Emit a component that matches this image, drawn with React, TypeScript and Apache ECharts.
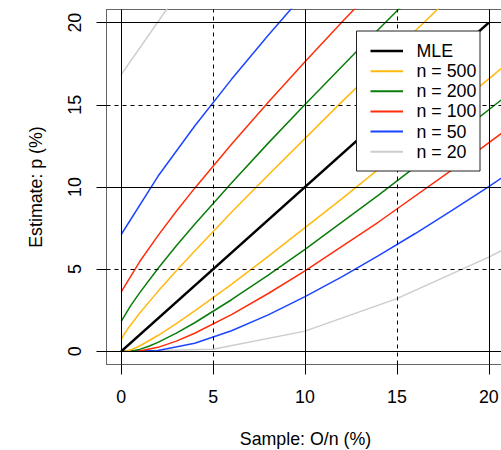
import React, { useEffect, useRef } from "react";
import * as echarts from "echarts";

// Tick positions (percent)
const xTicks = [0, 5, 10, 15, 20];
const yTicks = [0, 5, 10, 15, 20];
const solidGrid = [0, 10, 20];
const dashedGrid = [5, 15];

// MLE line: estimate = sample
const mle = [[0, 0], [20, 20]];

// 95% exact interval limits, [sample %, estimate %]
const n500Upper = [[0, 0.735], [0.2, 1.109], [0.4, 1.438], [1, 2.318], [2, 3.65], [3, 4.9], [4, 6.11], [6, 8.46], [8, 10.73], [12, 15.18], [16, 19.51], [18, 21.65]];
const n500Lower = [[0, 0], [0.2, 0.005], [0.4, 0.048], [0.6, 0.124], [1, 0.325], [2, 0.963], [3, 1.69], [4, 2.46], [6, 4.08], [8, 5.78], [12, 9.28], [16, 12.9], [20, 16.58], [22, 18.44]];
const n200Upper = [[0, 1.83], [0.5, 2.75], [1, 3.56], [2, 5.04], [3, 6.42], [4, 7.73], [6, 10.25], [8, 12.67], [10, 15.02], [13, 18.47], [16, 21.83]];
const n200Lower = [[0, 0], [0.5, 0.013], [1, 0.121], [1.5, 0.31], [2, 0.548], [3, 1.11], [4, 1.74], [6, 3.14], [8, 4.64], [10, 6.21], [14, 9.51], [18, 12.94], [22, 16.46]];
const n100Upper = [[0, 3.62], [1, 5.45], [2, 7.04], [3, 8.52], [4, 9.93], [6, 12.6], [8, 15.16], [10, 17.62], [12, 20.02], [14, 22.37]];
const n100Lower = [[0, 0], [1, 0.025], [2, 0.243], [3, 0.62], [4, 1.1], [6, 2.23], [8, 3.52], [10, 4.9], [14, 7.87], [18, 11.04], [22, 14.34]];
const n50Upper = [[0, 7.11], [2, 10.65], [4, 13.71], [6, 16.55], [8, 19.23], [10, 21.81]];
const n50Lower = [[0, 0], [2, 0.05], [4, 0.49], [6, 1.25], [8, 2.22], [10, 3.33], [12, 4.53], [14, 5.82], [16, 7.17], [18, 8.58], [20, 10.03], [22, 11.53]];
const n20Upper = [[0, 16.84], [5, 24.87]];
const n20Lower = [[0, 0], [5, 0.13], [10, 1.23], [15, 3.21], [20, 5.73], [25, 8.66]];

const legendLabels = ["MLE", "n = 500", "n = 200", "n = 100", "n = 50", "n = 20"];
const legendColors = ["#000000", "#FFB90F", "#0A7D0A", "#FF2D0A", "#1B45FF", "#CCCCCC"];

export default function App() {
  const ref = useRef<HTMLDivElement>(null);

  useEffect(() => {
    if (!ref.current) return;
    const chart = echarts.init(ref.current, null, { renderer: "svg" });
    const font = "'Liberation Sans', Arial, Helvetica, sans-serif";
    const fs = 17.8;
    const [cMle, c500, c200, c100, c50, c20] = legendColors;

    const curve = (name: string, data: number[][], color: string, width = 1.5) => ({
      name,
      type: "line",
      data,
      symbol: "none",
      showSymbol: false,
      clip: true,
      silent: true,
      z: 3,
      lineStyle: { color, width },
      itemStyle: { color },
    });

    const gridLineData = [
      ...solidGrid.map((v) => ({ xAxis: v, lineStyle: { color: "#000", type: "solid", width: 1 } })),
      ...solidGrid.map((v) => ({ yAxis: v, lineStyle: { color: "#000", type: "solid", width: 1 } })),
      ...dashedGrid.map((v) => ({ xAxis: v, lineStyle: { color: "#000", type: [4, 4], width: 1 } })),
      ...dashedGrid.map((v) => ({ yAxis: v, lineStyle: { color: "#000", type: [4, 4], width: 1 } })),
    ];

    const legendTop = 31;
    const legendLeft = 356.5;
    const rowGap = 20.14;
    const legendGraphics: any[] = [
      {
        type: "rect",
        shape: { x: legendLeft, y: legendTop, width: 123.5, height: 140 },
        style: { fill: "#fff", stroke: "#222", lineWidth: 1 },
        z: 100,
      },
    ];
    legendLabels.forEach((label, i) => {
      const y = legendTop + 20 + rowGap * i;
      legendGraphics.push({
        type: "line",
        shape: { x1: 370.5, y1: y, x2: 403, y2: y },
        style: { stroke: legendColors[i], lineWidth: i === 0 ? 2.6 : 2 },
        z: 101,
      });
      legendGraphics.push({
        type: "text",
        x: 416.5,
        y,
        style: { text: label, fill: "#000", fontSize: fs, fontFamily: font, textAlign: "left", textVerticalAlign: "middle" },
        z: 101,
      });
    });

    chart.setOption({
      animation: false,
      grid: {
        left: 106.5,
        top: 9.5,
        width: 397,
        height: 355,
        show: true,
        borderColor: "#666",
        borderWidth: 1,
      },
      xAxis: {
        type: "value",
        min: -0.8,
        max: 20.8,
        axisLine: { show: true, onZero: false, lineStyle: { color: "#666", width: 1 } },
        axisTick: { show: true, customValues: xTicks, length: 10, lineStyle: { color: "#000", width: 1 } },
        axisLabel: { customValues: xTicks, fontSize: fs, color: "#000", margin: 23, fontFamily: font },
        splitLine: { show: false },
      },
      yAxis: {
        type: "value",
        min: -0.8,
        max: 20.8,
        axisLine: { show: true, onZero: false, lineStyle: { color: "#666", width: 1 } },
        axisTick: { show: true, customValues: yTicks, length: 10, lineStyle: { color: "#000", width: 1 } },
        axisLabel: { customValues: yTicks, fontSize: fs, color: "#000", margin: 22.5, rotate: 90, fontFamily: font },
        splitLine: { show: false },
      },
      series: [
        {
          name: "grid",
          type: "line",
          data: [[0, 0]],
          symbol: "none",
          silent: true,
          z: 1,
          lineStyle: { opacity: 0 },
          markLine: { silent: true, symbol: "none", label: { show: false }, animation: false, data: gridLineData },
        },
        curve("n = 20 lower", n20Lower, c20),
        curve("n = 20 upper", n20Upper, c20),
        curve("n = 50 lower", n50Lower, c50),
        curve("n = 50 upper", n50Upper, c50),
        curve("n = 100 lower", n100Lower, c100),
        curve("n = 100 upper", n100Upper, c100),
        curve("n = 200 lower", n200Lower, c200),
        curve("n = 200 upper", n200Upper, c200),
        curve("n = 500 lower", n500Lower, c500),
        curve("n = 500 upper", n500Upper, c500),
        curve("MLE", mle, cMle, 2.6),
      ],
      graphic: [
        {
          type: "text",
          x: 305.5,
          y: 438.5,
          style: { text: "Sample: O/n (%)", fill: "#000", fontSize: fs, fontFamily: font, textAlign: "center", textVerticalAlign: "middle" },
        },
        {
          type: "text",
          x: 35.5,
          y: 187,
          rotation: Math.PI / 2,
          style: { text: "Estimate: p (%)", fill: "#000", fontSize: fs, fontFamily: font, textAlign: "center", textVerticalAlign: "middle" },
        },
        ...legendGraphics,
      ],
    });

    return () => chart.dispose();
  }, []);

  return (
    <div style={{ position: "absolute", left: 0, top: 0, width: 501, height: 450, overflow: "hidden", background: "#fff" }}>
      <div ref={ref} style={{ width: 520, height: 450 }} />
    </div>
  );
}
